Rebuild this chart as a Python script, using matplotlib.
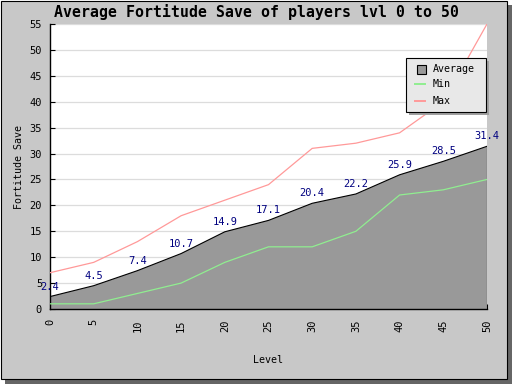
import matplotlib
matplotlib.use('Agg')
import matplotlib.pyplot as plt
from matplotlib.patches import Rectangle
from matplotlib.lines import Line2D

# ---- data ----
levels = [0, 5, 10, 15, 20, 25, 30, 35, 40, 45, 50]
avg_vals = [2.4, 4.5, 7.4, 10.7, 14.9, 17.1, 20.4, 22.2, 25.9, 28.5, 31.4]
min_vals = [1, 1, 3, 5, 9, 12, 12, 15, 22, 23, 25]
max_vals = [7, 9, 13, 18, 21, 24, 31, 32, 34, 40, 55]
series_names = ['Average', 'Min', 'Max']
y_ticks = list(range(0, 56, 5))
title_text = 'Average Fortitude Save of players lvl 0 to 50'
x_label = 'Level'
y_label = 'Fortitude Save'

plt.rcParams['font.family'] = ['DejaVu Sans Mono', 'DejaVu Sans']

W, H = 512, 384
fig = plt.figure(figsize=(W / 100, H / 100), dpi=100, facecolor='white')


def fx(x):
    return x / W


def fy(y):
    return 1 - y / H


# frame shadow and frame
fig.add_artist(Rectangle((fx(5), 0), (W - 5) / W, (H - 5) / H, transform=fig.transFigure,
                         facecolor='#666666', edgecolor='none', zorder=-10))
fig.add_artist(Rectangle((fx(0.5), fy(378.5)), 506 / W, 378 / H, transform=fig.transFigure,
                         facecolor='#c8c8c8', edgecolor='black', linewidth=0.8, zorder=-9))

ax = fig.add_axes([fx(50), fy(309), 437 / W, 285 / H])
ax.set_facecolor('white')
ax.set_xlim(0, 50)
ax.set_ylim(0, 55)
for s in ['top', 'right']:
    ax.spines[s].set_visible(False)
for s in ['left', 'bottom']:
    ax.spines[s].set_linewidth(1.0)
    ax.spines[s].set_color('black')

ax.set_axisbelow(True)
ax.yaxis.grid(True, color='#dcdcdc', linewidth=0.9)
ax.set_xticks(levels)
ax.set_yticks(y_ticks)
ax.tick_params(axis='both', direction='in', length=3.6, width=0.8, labelsize=7.5, colors='black')
ax.tick_params(axis='y', pad=5.7)
ax.tick_params(axis='x', pad=7.2, labelrotation=90)

fill_color = '#999999'
min_color = '#90ee90'
max_color = '#ff9999'

ax.fill_between(levels, 0, avg_vals, facecolor=fill_color, edgecolor='none', zorder=1)
ax.plot(levels, avg_vals, color='black', linewidth=0.8, zorder=3)
ax.vlines(levels[-1], 0, avg_vals[-1], color='black', linewidth=0.8, zorder=3)
ax.plot(levels, min_vals, color=min_color, linewidth=0.9, zorder=4)
ax.plot(levels, max_vals, color=max_color, linewidth=0.9, zorder=4)

for x, v in zip(levels, avg_vals):
    ax.annotate(f'{v}', (x, v), xytext=(0, 10), textcoords='offset pixels',
                ha='center', va='center', color='#000080', fontsize=7.5,
                annotation_clip=False, zorder=6)

# texts
fig.text(fx(256), fy(12.5), title_text, ha='center', va='center', fontsize=10.7,
         fontweight='bold', color='black')
fig.text(fx(268.5), fy(360), x_label, ha='center', va='center', fontsize=7.2)
fig.text(fx(19.5), fy(167), y_label, ha='center', va='center', rotation=90, fontsize=7.2)

# legend (manual, JpGraph style)
lx0, ly0, lx1, ly1 = 406, 58, 486, 112
fig.add_artist(Rectangle((fx(lx0 + 3), fy(ly1 + 3)), (lx1 - lx0) / W, (ly1 - ly0) / H,
                         transform=fig.transFigure, facecolor='#a0a0a0', edgecolor='none', zorder=8))
fig.add_artist(Rectangle((fx(lx0), fy(ly1)), (lx1 - lx0) / W, (ly1 - ly0) / H,
                         transform=fig.transFigure, facecolor='#e8e8e8', edgecolor='black',
                         linewidth=0.8, zorder=9))
rows_y = [69.5, 84, 100.5]
fig.add_artist(Rectangle((fx(417), fy(74)), 9 / W, 9 / H, transform=fig.transFigure,
                         facecolor=fill_color, edgecolor='black', linewidth=0.8, zorder=10))
fig.add_artist(Line2D([fx(415), fx(425)], [fy(rows_y[1]), fy(rows_y[1])], transform=fig.transFigure,
                      color=min_color, linewidth=1.4, zorder=10))
fig.add_artist(Line2D([fx(415), fx(425)], [fy(rows_y[2]), fy(rows_y[2])], transform=fig.transFigure,
                      color=max_color, linewidth=1.4, zorder=10))
for name, yy in zip(series_names, rows_y):
    fig.text(fx(433), fy(yy), name, ha='left', va='center', fontsize=7.2, zorder=11)

fig.savefig('out.png', dpi=100, facecolor=fig.get_facecolor())
